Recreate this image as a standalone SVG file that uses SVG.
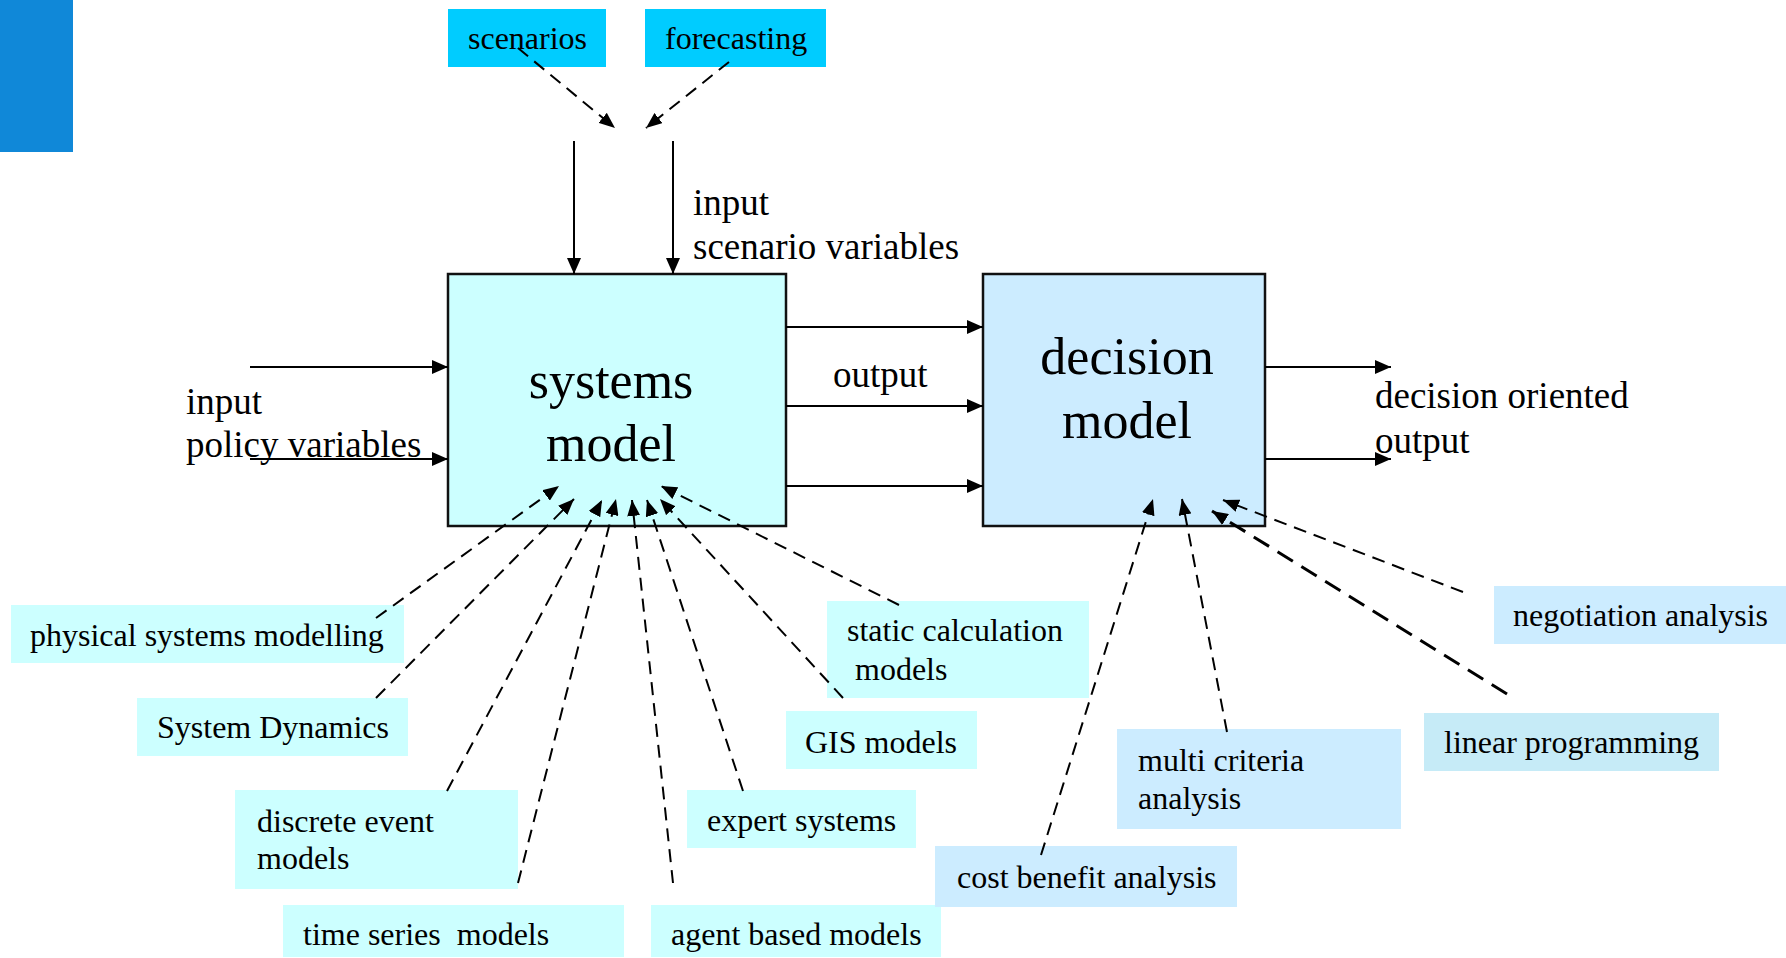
<svg xmlns="http://www.w3.org/2000/svg" width="1786" height="958" viewBox="0 0 1786 958">
  <style>
    text { font-family: "Liberation Serif", "Times New Roman", serif; fill: #000; }
    .t32 { font-size: 32px; }
    .t37 { font-size: 37px; }
    .t52 { font-size: 52px; }
    .main { stroke: #111; stroke-width: 2.5; }
    .sys { fill: #CCFFFF; }
    .dec { fill: #CCECFF; }
    .top { fill: #00CCFF; }
    .lp { fill: #C6EBF7; }
    .solid { stroke: #000; stroke-width: 2; fill: none; marker-end: url(#arr); }
    .dash { stroke: #000; stroke-width: 2; fill: none; stroke-dasharray: 13 8; marker-end: url(#darr); }
    .dashbold { stroke: #000; stroke-width: 3; fill: none; stroke-dasharray: 18 10; marker-end: url(#darr); }
  </style>
  <defs>
    <marker id="arr" markerUnits="userSpaceOnUse" markerWidth="16" markerHeight="14" refX="16" refY="7" orient="auto">
      <path d="M0,0 L16,7 L0,14 z" fill="#000"/>
    </marker>
    <marker id="darr" markerUnits="userSpaceOnUse" markerWidth="16" markerHeight="13" refX="16" refY="6.5" orient="auto">
      <path d="M0,0 L16,6.5 L0,13 z" fill="#000"/>
    </marker>
  </defs>

  <rect width="1786" height="958" fill="#fff"/>
  <!-- corner accent bar -->
  <rect x="0" y="0" width="73" height="152" fill="#1088D8"/>

  <!-- main blocks -->
  <g id="systems-model">
    <rect class="main sys" x="448" y="274" width="338" height="252"/>
    <text class="t52" x="611" y="398" text-anchor="middle">systems</text>
    <text class="t52" x="611" y="461" text-anchor="middle">model</text>
  </g>
  <g id="decision-model">
    <rect class="main dec" x="983" y="274" width="282" height="252"/>
    <text class="t52" x="1127" y="374" text-anchor="middle">decision</text>
    <text class="t52" x="1127" y="438" text-anchor="middle">model</text>
  </g>

  <!-- scenario inputs -->
  <g id="scenarios">
    <rect class="top" x="448" y="9" width="158" height="58"/>
    <text class="t32" x="468" y="49">scenarios</text>
  </g>
  <g id="forecasting">
    <rect class="top" x="645" y="9" width="181" height="58"/>
    <text class="t32" x="665" y="49">forecasting</text>
  </g>

  <!-- free labels -->
  <g id="label-input-scenario">
    <text class="t37" x="693" y="215">input</text>
    <text class="t37" x="693" y="259">scenario variables</text>
  </g>
  <g id="label-input-policy">
    <text class="t37" x="186" y="414">input</text>
    <text class="t37" x="186" y="457">policy variables</text>
  </g>
  <g id="label-output">
    <text class="t37" x="833" y="387">output</text>
  </g>
  <g id="label-decision-output">
    <text class="t37" x="1375" y="408">decision oriented</text>
    <text class="t37" x="1375" y="453">output</text>
  </g>

  <!-- methods feeding the systems model -->
  <g id="physical-systems-modelling">
    <rect class="sys" x="11" y="605" width="393" height="58"/>
    <text class="t32" x="30" y="646">physical systems modelling</text>
  </g>
  <g id="system-dynamics">
    <rect class="sys" x="137" y="698" width="271" height="58"/>
    <text class="t32" x="157" y="738">System Dynamics</text>
  </g>
  <g id="discrete-event-models">
    <rect class="sys" x="235" y="790" width="283" height="99"/>
    <text class="t32" x="257" y="832">discrete event</text>
    <text class="t32" x="257" y="869">models</text>
  </g>
  <g id="time-series-models">
    <rect class="sys" x="283" y="905" width="341" height="52"/>
    <text class="t32" x="303" y="945" xml:space="preserve">time series  models</text>
  </g>
  <g id="agent-based-models">
    <rect class="sys" x="651" y="905" width="290" height="52"/>
    <text class="t32" x="671" y="945">agent based models</text>
  </g>
  <g id="expert-systems">
    <rect class="sys" x="687" y="790" width="229" height="58"/>
    <text class="t32" x="707" y="831">expert systems</text>
  </g>
  <g id="gis-models">
    <rect class="sys" x="786" y="711" width="191" height="58"/>
    <text class="t32" x="805" y="753">GIS models</text>
  </g>
  <g id="static-calculation-models">
    <rect class="sys" x="827" y="601" width="262" height="97"/>
    <text class="t32" x="847" y="641">static calculation</text>
    <text class="t32" x="855" y="680">models</text>
  </g>

  <!-- methods feeding the decision model -->
  <g id="cost-benefit-analysis">
    <rect class="dec" x="935" y="846" width="302" height="61"/>
    <text class="t32" x="957" y="888">cost benefit analysis</text>
  </g>
  <g id="multi-criteria-analysis">
    <rect class="dec" x="1117" y="729" width="284" height="100"/>
    <text class="t32" x="1138" y="771">multi criteria</text>
    <text class="t32" x="1138" y="809">analysis</text>
  </g>
  <g id="linear-programming">
    <rect class="lp" x="1424" y="713" width="295" height="58"/>
    <text class="t32" x="1444" y="753">linear programming</text>
  </g>
  <g id="negotiation-analysis">
    <rect class="dec" x="1494" y="586" width="292" height="58"/>
    <text class="t32" x="1513" y="626">negotiation analysis</text>
  </g>

  <!-- connectors -->
  <g id="connectors">
    <!-- scenario sources -->
    <line class="dash" x1="518" y1="48" x2="615" y2="128"/>
    <line class="dash" x1="729" y1="62" x2="646" y2="128"/>
    <!-- inputs into systems model -->
    <line class="solid" x1="574" y1="141" x2="574" y2="274"/>
    <line class="solid" x1="673" y1="141" x2="673" y2="274"/>
    <line class="solid" x1="250" y1="367" x2="448" y2="367"/>
    <line class="solid" x1="250" y1="459" x2="448" y2="459"/>
    <!-- systems model to decision model -->
    <line class="solid" x1="786" y1="327" x2="983" y2="327"/>
    <line class="solid" x1="786" y1="406" x2="983" y2="406"/>
    <line class="solid" x1="786" y1="486" x2="983" y2="486"/>
    <!-- decision output -->
    <line class="solid" x1="1265" y1="367" x2="1391" y2="367"/>
    <line class="solid" x1="1265" y1="459" x2="1391" y2="459"/>
    <!-- method links into systems model -->
    <line class="dash" x1="376" y1="618" x2="559" y2="486"/>
    <line class="dash" x1="376" y1="698" x2="574" y2="499"/>
    <line class="dash" x1="447" y1="791" x2="602" y2="500"/>
    <line class="dash" x1="518" y1="883" x2="616" y2="499"/>
    <line class="dash" x1="673" y1="883" x2="632" y2="500"/>
    <line class="dash" x1="743" y1="791" x2="647" y2="500"/>
    <line class="dash" x1="843" y1="698" x2="660" y2="499"/>
    <line class="dash" x1="899" y1="605" x2="661" y2="486"/>
    <!-- method links into decision model -->
    <line class="dash" x1="1041" y1="855" x2="1153" y2="499"/>
    <line class="dash" x1="1227" y1="732" x2="1182" y2="499"/>
    <line class="dashbold" x1="1507" y1="694" x2="1212" y2="511"/>
    <line class="dash" x1="1463" y1="592" x2="1223" y2="500"/>
  </g>
</svg>
